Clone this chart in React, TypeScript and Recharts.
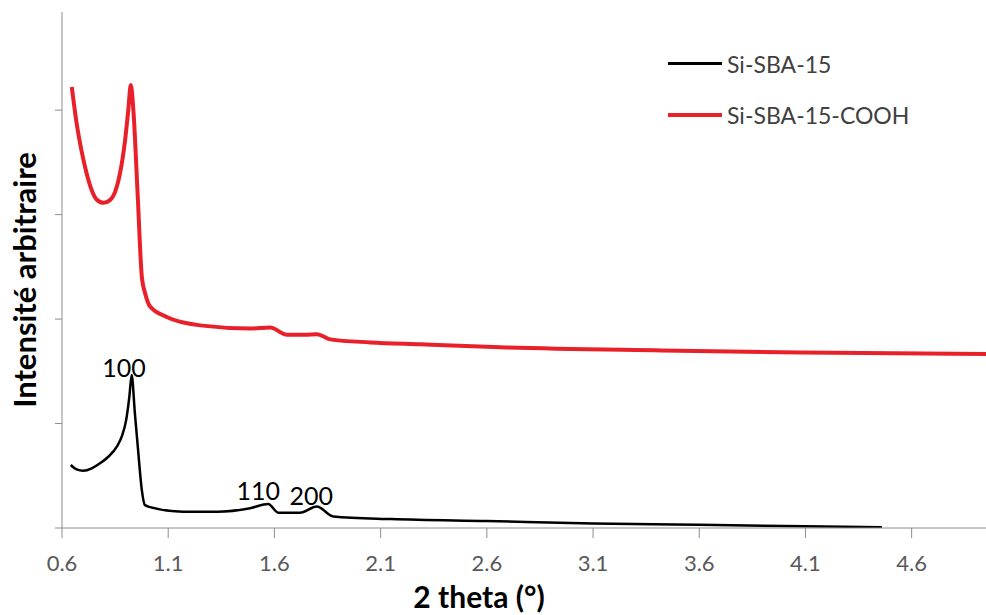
import { LineChart, Line, XAxis, YAxis, Legend, ReferenceDot } from 'recharts';

const xTicks = [0.6, 1.1, 1.6, 2.1, 2.6, 3.1, 3.6, 4.1, 4.6];
const yTicks = [0, 1, 2, 3, 4];

const sbaX = [0.641, 0.669, 0.7, 0.74, 0.779, 0.818, 0.858, 0.881, 0.902, 0.917, 0.928, 0.943, 0.958, 0.976, 0.99, 1.015, 1.17, 1.33, 1.486, 1.571, 1.618, 1.72, 1.8, 1.877, 2.15, 2.6, 3.1, 3.6, 4.1, 4.46];
const sbaY = [0.603, 0.561, 0.548, 0.571, 0.619, 0.682, 0.778, 0.874, 1.033, 1.256, 1.464, 1.1, 0.75, 0.36, 0.22, 0.2, 0.156, 0.156, 0.19, 0.23, 0.147, 0.147, 0.205, 0.11, 0.085, 0.066, 0.044, 0.03, 0.017, 0.008];

const coohX = [0.646, 0.669, 0.693, 0.716, 0.74, 0.763, 0.795, 0.826, 0.85, 0.873, 0.897, 0.912, 0.924, 0.936, 0.956, 0.976, 0.991, 1.015, 1.093, 1.25, 1.486, 1.58, 1.659, 1.745, 1.8, 1.863, 2.051, 2.287, 2.664, 3.423, 4.08, 4.95];
const coohY = [4.223, 3.873, 3.601, 3.394, 3.234, 3.145, 3.113, 3.139, 3.218, 3.394, 3.713, 4.0, 4.24, 4.0, 3.2, 2.4, 2.25, 2.12, 2.02, 1.94, 1.91, 1.92, 1.85, 1.85, 1.856, 1.806, 1.777, 1.758, 1.73, 1.7, 1.68, 1.665];

// hkl labels of the Si-SBA-15 reflections (text centre x, baseline y)
const peakLabels = ['100', '110', '200'];
const peakLabelX = [0.892, 1.524, 1.773];
const peakLabelY = [1.445, 0.268, 0.22];

const toPoints = (xs: number[], ys: number[]) => xs.map((x, i) => ({ x, y: ys[i] }));

const series = [
  { name: 'Si-SBA-15', color: '#000000', width: 2.5, data: toPoints(sbaX, sbaY) },
  { name: 'Si-SBA-15-COOH', color: '#e8202a', width: 4, data: toPoints(coohX, coohY) },
];

const FONT = 'Lato, "Open Sans", sans-serif';
const AXIS = '#8c8c8c';

function renderLegend() {
  return (
    <div style={{ fontFamily: FONT }}>
      {series.map((s) => (
        <div key={s.name} style={{ display: 'flex', alignItems: 'center', height: 51 }}>
          <div style={{ width: 54, height: s.width, background: s.color, marginRight: 5 }} />
          <span style={{ fontSize: 23, color: '#404040' }}>{s.name}</span>
        </div>
      ))}
    </div>
  );
}

function YTitle(props: any) {
  const vb = props.viewBox || { x: 0, y: 12, width: 62, height: 516 };
  const cx = vb.x + 24;
  const cy = vb.y + vb.height / 2 + 10;
  return (
    <text
      x={cx}
      y={cy}
      transform={`rotate(-90, ${cx}, ${cy})`}
      textAnchor="middle"
      dominantBaseline="central"
      fontSize={31}
      fontWeight="bold"
      fill="#000"
      fontFamily={FONT}
    >
      Intensité arbitraire
    </text>
  );
}

export default function App() {
  return (
    <div style={{ position: 'absolute', left: 0, top: 0, width: 986, height: 615, background: '#fff', fontFamily: FONT }}>
      <LineChart width={986} height={615} margin={{ top: 12, right: 0, left: 0, bottom: 0 }}>
        <XAxis
          dataKey="x"
          type="number"
          domain={[0.6, 4.95]}
          ticks={xTicks}
          allowDataOverflow
          tickFormatter={(v: number) => v.toFixed(1)}
          height={87}
          stroke={AXIS}
          tickSize={10}
          tickMargin={17}
          tick={{ fill: '#595959', fontSize: 22, fontFamily: FONT }}
          label={{ value: '2 theta (°)', position: 'insideBottom', offset: 7, dx: -45, fontSize: 30, fontWeight: 'bold', fill: '#000', fontFamily: FONT }}
        />
        <YAxis
          dataKey="y"
          type="number"
          domain={[0, 4.94]}
          ticks={yTicks}
          allowDataOverflow
          width={62}
          stroke={AXIS}
          tickSize={7}
          tickFormatter={() => ''}
          label={<YTitle />}
        />
        <Legend
          layout="vertical"
          verticalAlign="middle"
          align="center"
          content={renderLegend}
          wrapperStyle={{ top: 38, left: 668, width: 300 }}
        />
        {series.map((s) => (
          <Line
            key={s.name}
            data={s.data}
            dataKey="y"
            name={s.name}
            type="monotone"
            stroke={s.color}
            strokeWidth={s.width}
            dot={false}
            activeDot={false}
            isAnimationActive={false}
          />
        ))}
        {peakLabels.map((t, i) => (
          <ReferenceDot
            key={t}
            x={peakLabelX[i]}
            y={peakLabelY[i]}
            r={0}
            stroke="none"
            label={{ value: t, position: 'top', offset: 0, fontSize: 25, fill: '#000', fontFamily: FONT }}
          />
        ))}
      </LineChart>
    </div>
  );
}
